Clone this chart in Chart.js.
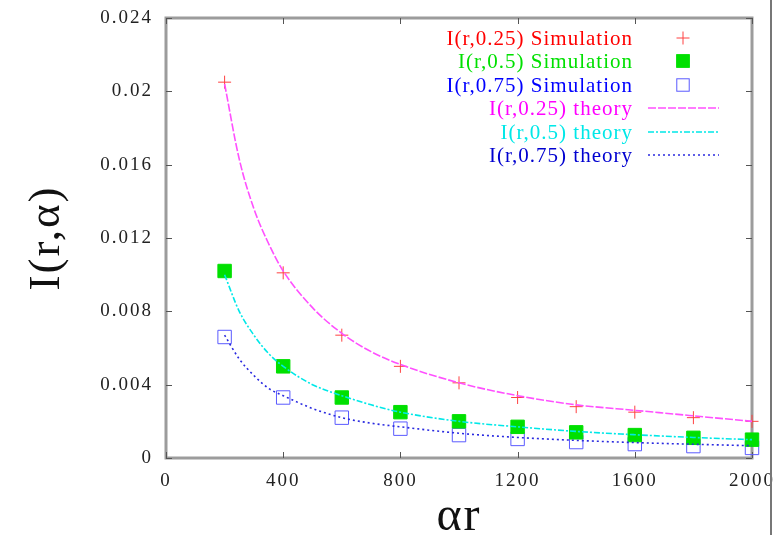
<!DOCTYPE html>
<html>
<head>
<meta charset="utf-8">
<script src="https://cdn.jsdelivr.net/npm/chart.js@4.4.1/dist/chart.umd.min.js"></script>
<style>
  html, body { margin: 0; padding: 0; background: #fff; }
  #wrap { width: 773px; height: 535px; }
</style>
</head>
<body>
<div id="wrap"><canvas id="decayChart" width="773" height="535"></canvas></div>
<script>
// Sampled radii (alpha * r) for the simulation runs
const simX = [200, 400, 600, 800, 1000, 1200, 1400, 1600, 1800, 2000];
const simQuarter = [0.0205, 0.0101, 0.0067, 0.0050, 0.0041, 0.0033, 0.0028, 0.0025, 0.0022, 0.0020];
const simHalf = [0.0102, 0.0050, 0.0033, 0.0025, 0.0020, 0.0017, 0.0014, 0.00125, 0.0011, 0.0010];
const simThreeQuarter = [0.0066, 0.0033, 0.0022, 0.0016, 0.00125, 0.00104, 0.00087, 0.00076, 0.00065, 0.00055];

// Theory curves
const theoryX = [200, 250, 300, 350, 400, 500, 600, 700, 800, 1000, 1200, 1400, 1600, 1800, 2000];
const theoryQuarter = [0.0204, 0.0163, 0.0136, 0.0117, 0.0102, 0.0082, 0.0068, 0.0058, 0.0051, 0.0041, 0.0034, 0.0029, 0.0026, 0.0023, 0.0020];
const theoryHalf = [0.0100, 0.0080, 0.0067, 0.0057, 0.0050, 0.0040, 0.0034, 0.0029, 0.0025, 0.0020, 0.0017, 0.00145, 0.00127, 0.00112, 0.0010];
const theoryThreeQuarter = [0.0067, 0.0054, 0.0045, 0.0038, 0.0034, 0.0027, 0.0022, 0.0019, 0.0017, 0.00135, 0.00112, 0.00096, 0.00084, 0.00075, 0.00067];

const seriesLabels = [
    'I(r,0.25) Simulation', 'I(r,0.5) Simulation', 'I(r,0.75) Simulation',
    'I(r,0.25) theory', 'I(r,0.5) theory', 'I(r,0.75) theory'
];

const serif = "'Liberation Serif', 'Times New Roman', serif";
const frameColor = '#9c9c9c';

const toPoints = (xs, ys) => xs.map((x, i) => ({ x: x, y: ys[i] }));

// Frame with inward ticks on all four sides, plus the outer rule on the right
const framePlugin = {
    id: 'frame',
    beforeDraw(chart) {
        chart.ctx.letterSpacing = '2px';
    },
    beforeDatasetsDraw(chart) {
        const { ctx, chartArea: a, scales } = chart;
        ctx.save();
        ctx.strokeStyle = frameColor;
        ctx.lineWidth = 3;
        ctx.strokeRect(a.left, a.top, a.right - a.left, a.bottom - a.top);

        ctx.strokeStyle = '#555';
        ctx.lineWidth = 1;
        const len = 6;
        scales.x.ticks.forEach(t => {
            const px = Math.round(scales.x.getPixelForValue(t.value)) + 0.5;
            ctx.beginPath();
            ctx.moveTo(px, a.bottom); ctx.lineTo(px, a.bottom - len);
            ctx.moveTo(px, a.top); ctx.lineTo(px, a.top + len);
            ctx.stroke();
        });
        scales.y.ticks.forEach(t => {
            const py = Math.round(scales.y.getPixelForValue(t.value)) + 0.5;
            ctx.beginPath();
            ctx.moveTo(a.left, py); ctx.lineTo(a.left + len, py);
            ctx.moveTo(a.right, py); ctx.lineTo(a.right - len, py);
            ctx.stroke();
        });
        ctx.restore();
    },
    afterDraw(chart) {
        const ctx = chart.ctx;
        ctx.save();
        ctx.strokeStyle = '#777';
        ctx.lineWidth = 2;
        ctx.beginPath();
        ctx.moveTo(771, 0);
        ctx.lineTo(771, chart.height);
        ctx.stroke();
        ctx.restore();
    }
};

// gnuplot-style key: right-aligned label, sample on the right
const keyPlugin = {
    id: 'key',
    afterDraw(chart) {
        const ctx = chart.ctx;
        const textRight = 633, sampleX = 683, lineL = 648, lineR = 719;
        const rows = [38, 61, 85, 108, 132, 155];
        ctx.save();
        ctx.font = '21px ' + serif;
        ctx.letterSpacing = '1px';
        ctx.textAlign = 'right';
        ctx.textBaseline = 'middle';
        chart.data.datasets.forEach((ds, i) => {
            const y = rows[i];
            ctx.fillStyle = ds.keyColor;
            ctx.fillText(ds.label, textRight, y + 1);
            ctx.strokeStyle = ds.borderColor;
            ctx.fillStyle = ds.backgroundColor;
            if (ds.showLine) {
                ctx.lineWidth = ds.borderWidth;
                ctx.setLineDash(ds.borderDash);
                ctx.beginPath();
                ctx.moveTo(lineL, y); ctx.lineTo(lineR, y);
                ctx.stroke();
                ctx.setLineDash([]);
            } else if (ds.pointStyle === 'cross') {
                ctx.lineWidth = 1;
                const r = ds.pointRadius;
                ctx.beginPath();
                ctx.moveTo(sampleX - r, y); ctx.lineTo(sampleX + r, y);
                ctx.moveTo(sampleX, y - r); ctx.lineTo(sampleX, y + r);
                ctx.stroke();
            } else {
                const h = ds.pointRadius * Math.SQRT1_2;
                ctx.lineWidth = 1;
                if (ds.backgroundColor !== 'transparent') {
                    ctx.fillRect(sampleX - h, y - h, 2 * h, 2 * h);
                }
                ctx.strokeRect(sampleX - h + 0.5, y - h + 0.5, 2 * h - 1, 2 * h - 1);
            }
        });
        ctx.restore();
    }
};

const markerSet = (label, ys, color, fill, style, radius, keyColor) => ({
    label: label,
    data: toPoints(simX, ys),
    showLine: false,
    pointStyle: style,
    pointRadius: radius,
    pointBorderWidth: 1,
    borderColor: color,
    backgroundColor: fill,
    pointBackgroundColor: fill,
    pointBorderColor: color,
    keyColor: keyColor,
    clip: false,
    order: 1
});

const curveSet = (label, ys, color, dash, keyColor) => ({
    label: label,
    data: toPoints(theoryX, ys),
    showLine: true,
    pointRadius: 0,
    borderColor: color,
    backgroundColor: color,
    borderWidth: 1.6,
    borderDash: dash,
    cubicInterpolationMode: 'monotone',
    keyColor: keyColor,
    clip: false,
    order: 0
});

new Chart(document.getElementById('decayChart'), {
    type: 'scatter',
    data: {
        datasets: [
            markerSet(seriesLabels[0], simQuarter, '#ff4040', '#ff4040', 'cross', 6.5, '#ff0000'),
            markerSet(seriesLabels[1], simHalf, '#00e000', '#00e000', 'rect', 9.5, '#00e000'),
            markerSet(seriesLabels[2], simThreeQuarter, '#5a5aff', 'transparent', 'rect', 9.5, '#0000ff'),
            curveSet(seriesLabels[3], theoryQuarter, '#ff50ff', [8, 2], '#ff00ff'),
            curveSet(seriesLabels[4], theoryHalf, '#00e8e8', [6, 2, 2, 2], '#00e8e8'),
            curveSet(seriesLabels[5], theoryThreeQuarter, '#2a2ae0', [2, 3], '#0000d0')
        ]
    },
    options: {
        responsive: false,
        animation: false,
        layout: { padding: { left: 0, right: 21, top: 18, bottom: 0 } },
        plugins: {
            legend: { display: false },
            tooltip: { enabled: false }
        },
        scales: {
            x: {
                type: 'linear',
                min: 0,
                max: 2000,
                afterFit: s => {
                    s.height = 77;
                    s.paddingLeft = 0;
                    s.paddingRight = 0;
                },
                grid: { display: false, drawTicks: false },
                border: { display: false },
                ticks: {
                    stepSize: 400,
                    padding: 12,
                    color: '#222',
                    font: { family: serif, size: 19 },
                    maxRotation: 0,
                    callback: v => String(v)
                },
                title: {
                    display: true,
                    text: 'αr',
                    color: '#111',
                    font: { family: serif, size: 48, lineHeight: 0.75 },
                    padding: 0
                }
            },
            y: {
                type: 'linear',
                min: 0,
                max: 0.024,
                afterFit: s => {
                    s.width = 166;
                    s.paddingTop = 0;
                    s.paddingBottom = 0;
                },
                grid: { display: false, drawTicks: false },
                border: { display: false },
                ticks: {
                    stepSize: 0.004,
                    padding: 13,
                    color: '#222',
                    font: { family: serif, size: 19 },
                    callback: v => v === 0 ? '0' : String(+v.toFixed(3))
                },
                title: {
                    display: true,
                    text: 'I(r,α)',
                    color: '#111',
                    font: { family: serif, size: 45, lineHeight: 1.2 },
                    padding: { top: 20, bottom: 0 }
                }
            }
        }
    },
    plugins: [framePlugin, keyPlugin]
});
</script>
</body>
</html>
